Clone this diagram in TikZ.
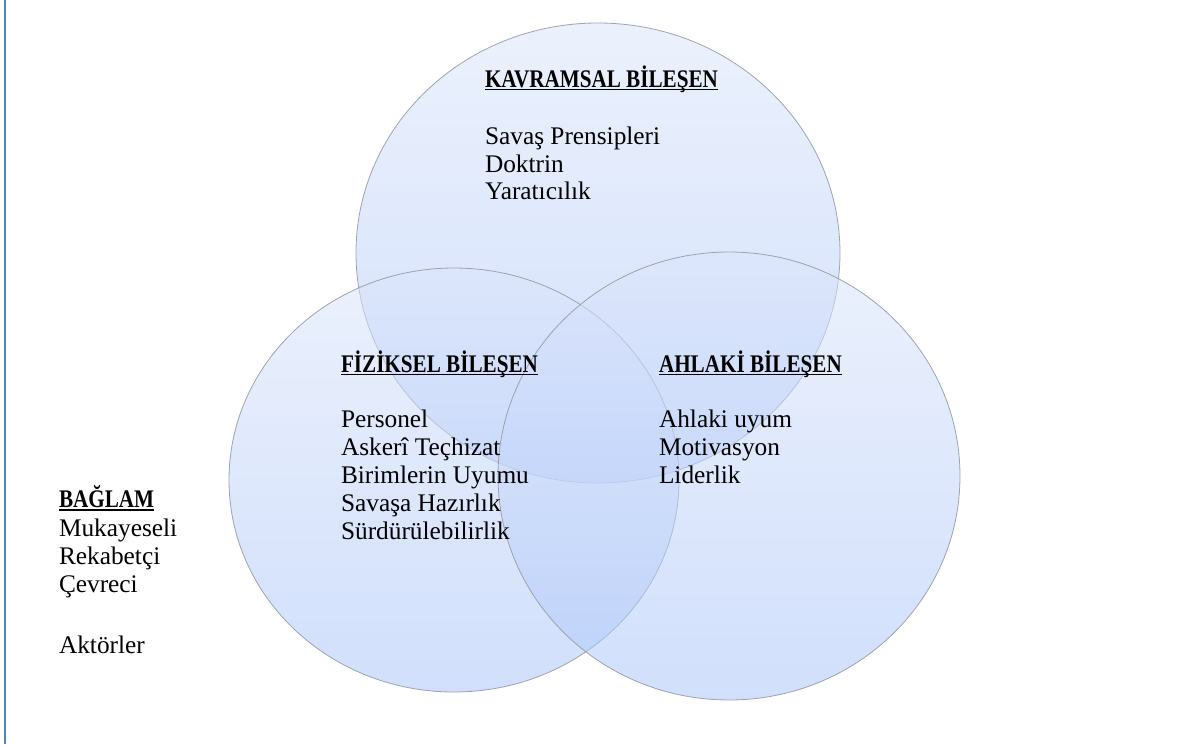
\documentclass[tikz,border=0pt]{standalone}
\usepackage{fontspec}
\setmainfont{Liberation Serif}
\usepackage{graphicx}
\newsavebox\myulbox
\newcommand\myhead[1]{\scalebox{0.835}[1]{\sbox\myulbox{\bfseries #1}\rlap{\rule[-2.4pt]{\wd\myulbox}{1.1pt}}\usebox\myulbox}}
\definecolor{bordblue}{RGB}{79,129,189}
\definecolor{ringgray}{RGB}{150,155,170}
\definecolor{fillTop}{RGB}{220,230,251}
\definecolor{fillBot}{RGB}{172,198,250}
\tikzset{
  ring/.style={draw=ringgray, line width=0.6pt, top color=fillTop, bottom color=fillBot, fill opacity=0.55, draw opacity=0.9},
  txt/.style={anchor=base west, inner sep=0pt, outer sep=0pt, font=\fontsize{19}{21}\selectfont},
  head/.style={txt}
}
\begin{document}
\begin{tikzpicture}[x=0.75pt, y=-0.75pt]
\useasboundingbox (0,0) rectangle (1179,744);
\fill[white] (0,0) rectangle (1179,744);
\draw[bordblue, line width=1.5pt] (5,0) -- (5,744);
% ellipses
\path[ring] (598,253) ellipse [x radius=242, y radius=230];
\path[ring] (454,480) ellipse [x radius=225, y radius=212];
\path[ring] (729,476) ellipse [x radius=231, y radius=224];
% Kavramsal
\node[head] (kh) at (485,87) {\myhead{KAVRAMSAL BİLEŞEN}};
\node[txt] (k1) at (485,144) {Savaş Prensipleri};
\node[txt] (k2) at (485,172) {Doktrin};
\node[txt] (k3) at (485,199.5) {Yaratıcılık};
% Fiziksel
\node[head] (fh) at (341,372) {\myhead{FİZİKSEL BİLEŞEN}};
\node[txt] (f1) at (341,427.5) {Personel};
\node[txt] (f2) at (341,455.5) {Askerî Teçhizat};
\node[txt] (f3) at (341,483.5) {Birimlerin Uyumu};
\node[txt] (f4) at (341,511.5) {Savaşa Hazırlık};
\node[txt] (f5) at (341,539.5) {Sürdürülebilirlik};
% Ahlaki
\node[head] (ah) at (659,372) {\myhead{AHLAKİ BİLEŞEN}};
\node[txt] (a1) at (659,427) {Ahlaki uyum};
\node[txt] (a2) at (659,455) {Motivasyon};
\node[txt] (a3) at (659,483.3) {Liderlik};
% Baglam
\node[head] (bh) at (59,507.5) {\myhead{BAĞLAM}};
\node[txt] (b1) at (59,536) {Mukayeseli};
\node[txt] (b2) at (59,564.3) {Rekabetçi};
\node[txt] (b3) at (59,592.7) {Çevreci};
\node[txt] (b4) at (59,653.3) {Aktörler};
\end{tikzpicture}
\end{document}
